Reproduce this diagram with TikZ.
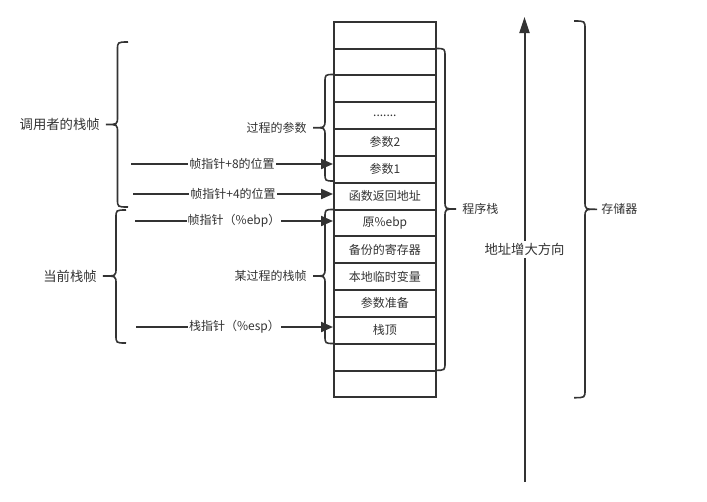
\documentclass[tikz,border=0pt]{standalone}
\usepackage{fontspec}
\newfontfamily\cjk{Noto Sans CJK SC}
\usetikzlibrary{arrows.meta}

\begin{document}
\begin{tikzpicture}[x=0.75pt,y=0.75pt,yscale=-1,xscale=1,
  ink/.style={draw={rgb, 255:red, 51; green, 51; blue, 51}, line width=1.5},
  every node/.style={font=\cjk\fontsize{9}{11}\selectfont, text={rgb, 255:red, 51; green, 51; blue, 51}, inner sep=0.75pt},
  big/.style={font=\cjk\fontsize{10}{12}\selectfont},
  cell/.style={ink, minimum width=76.3pt, minimum height=20.1pt, inner sep=0pt},
  ptr/.style={ink, -{Triangle[length=9pt,width=7.5pt]}},
  lbl/.style={fill=white},
  brace/.style={ink, line width=1.2}]
\useasboundingbox (0,0) rectangle (707,501);

%Stack cells
\node (blank1) [cell] at (384.9,35.1) {};
\node (blank2) [cell] at (384.9,61.9) {};
\node (blank3) [cell] at (384.9,88.8) {};
\node (dots) [cell] at (384.9,115.6) {.......};
\node (arg2) [cell] at (384.9,142.4) {参数2};
\node (arg1) [cell] at (384.9,169.3) {参数1};
\node (ret) [cell] at (384.9,196.1) {函数返回地址};
\node (oldebp) [cell] at (384.9,222.9) {原\%ebp};
\node (regs) [cell] at (384.9,249.7) {备份的寄存器};
\node (locals) [cell] at (384.9,276.6) {本地临时变量};
\node (argprep) [cell] at (384.9,303.4) {参数准备};
\node (sptop) [cell] at (384.9,330.2) {栈顶};
\node (blank4) [cell] at (384.9,357.1) {};
\node (blank5) [cell] at (384.9,383.9) {};

%Shape: Brace [caller frame]
\draw [brace] (128,42) .. controls (117.5,42) .. (117.5,50) -- (117.5,116.5) .. controls (117.5,124.5) .. (106,124.5) .. controls (117.5,124.5) .. (117.5,132.5) -- (117.5,199) .. controls (117.5,207) .. (128,207) ;
%Shape: Brace [current frame]
\draw [brace] (126,210) .. controls (116,210) .. (116,218) -- (116,268) .. controls (116,276) .. (103,276) .. controls (116,276) .. (116,284) -- (116,335) .. controls (116,343) .. (126,343) ;
%Shape: Brace [args]
\draw [brace] (334,74.5) .. controls (325,74.5) .. (325,82.5) -- (325,119.7) .. controls (325,127.7) .. (313,127.7) .. controls (325,127.7) .. (325,135.7) -- (325,173) .. controls (325,181) .. (334,181) ;
%Shape: Brace [some frame]
\draw [brace] (334,209.5) .. controls (325,209.5) .. (325,217.5) -- (325,268) .. controls (325,276) .. (313,276) .. controls (325,276) .. (325,284) -- (325,335.5) .. controls (325,343.5) .. (334,343.5) ;
%Shape: Brace [program stack]
\draw [brace] (435.7,48.5) .. controls (445,48.5) .. (445,56.5) -- (445,201) .. controls (445,209) .. (456,209) .. controls (445,209) .. (445,217) -- (445,362.3) .. controls (445,370.3) .. (435.7,370.3) ;
%Shape: Brace [memory]
\draw [brace] (574,21) .. controls (585,21) .. (585,29) -- (585,201.3) .. controls (585,209.3) .. (597,209.3) .. controls (585,209.3) .. (585,217.3) -- (585,389.7) .. controls (585,397.7) .. (574,397.7) ;

% Text Node
\node (callerlbl) [big, anchor=east] at (101,124.5) {调用者的栈帧};
% Text Node
\node (curlbl) [big, anchor=east] at (98,276) {当前栈帧};
% Text Node
\node (argslbl) [anchor=east] at (308,127.7) {过程的参数};
% Text Node
\node (framelbl) [anchor=east] at (308,276) {某过程的栈帧};
% Text Node
\node (stacklbl) [anchor=west] at (461,209) {程序栈};
% Text Node
\node (memlbl) [anchor=west] at (600,209.3) {存储器};

%Pointer arrows
\coordinate (p8) at (131,164);
\coordinate (p4) at (133,194);
\coordinate (pebp) at (135,221);
\coordinate (pesp) at (136,327);
\draw [ptr] (p8) -- (p8 -| arg1.west) node [lbl, midway] {帧指针+8的位置};
\draw [ptr] (p4) -- (p4 -| ret.west) node [lbl, midway] {帧指针+4的位置};
\draw [ptr] (pebp) -- (pebp -| oldebp.west) node [lbl, midway] {帧指针（\%ebp）};
\draw [ptr] (pesp) -- (pesp -| sptop.west) node [lbl, midway] {栈指针（\%esp）};

%Address arrow
\coordinate (addrlo) at (524.5,482);
\coordinate (addrhi) at (524.5,17);
\draw [ink, -{Triangle[length=12pt,width=7.5pt]}] (addrlo) -- (addrhi) node [lbl, big, midway, inner sep=2pt] {地址增大方向};

\end{tikzpicture}
\end{document}
